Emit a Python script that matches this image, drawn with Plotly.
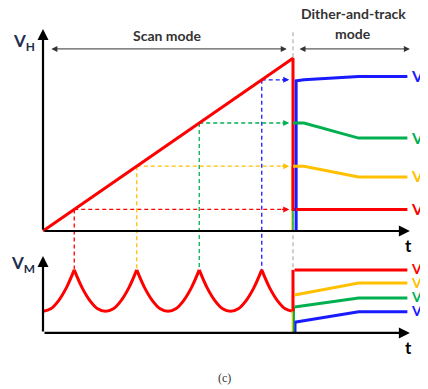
import plotly.graph_objects as go

# scan phase: ramp of V_H against time, and sampled levels
ramp_t = [0, 8]
ramp_v = [0, 8]
sample_t = [1, 3, 5, 7]
sample_v = [1, 3, 5, 7]
sample_colors = ["#ff0000", "#ffc000", "#00b050", "#1a1aff"]

# V_M scallop during scan (peaks where samples are taken)
scallop_t = [0, 0.25, 0.5, 0.75, 1, 1.25, 1.5, 1.75, 2, 2.25, 2.5, 2.75, 3,
             3.25, 3.5, 3.75, 4, 4.25, 4.5, 4.75, 5, 5.25, 5.5, 5.75, 6,
             6.25, 6.5, 6.75, 7, 7.25, 7.5, 7.75, 8]
scallop_v = [1.0, 1.12, 1.5, 2.1, 2.92, 2.1, 1.5, 1.12, 1.0, 1.12, 1.5, 2.1, 2.92,
             2.1, 1.5, 1.12, 1.0, 1.12, 1.5, 2.1, 2.92, 2.1, 1.5, 1.12, 1.0,
             1.12, 1.5, 2.1, 2.92, 2.1, 1.5, 1.12, 1.0]
peak_t = [1, 3, 5, 7]

# dither-and-track phase, V_H per channel
track_t = [8.1, 8.35, 10.1, 11.66]
track_h = {
    "#1a1aff": [6.95, 7.0, 7.15, 7.15],
    "#00b050": [5.0, 5.0, 4.3, 4.3],
    "#ffc000": [3.0, 3.0, 2.5, 2.5],
    "#ff0000": [1.0, 1.0, 1.0, 1.0],
}
# dither-and-track phase, V_M per channel
track_m_t = [8.05, 10.1, 11.66]
track_m = {
    "#ff0000": [2.92, 2.92, 2.92],
    "#ffc000": [1.76, 2.31, 2.31],
    "#00b050": [1.2, 1.62, 1.62],
    "#1a1aff": [0.5, 0.98, 0.98],
}

VM_OFF = -4.72  # vertical offset of lower (V_M) panel
T_END = 11.74
PX_T, PX_V = 31.25, 21.6
# page body has an 8px margin, so the figure is 8px smaller and origin shifted
X0, Y0 = 43 - 8, 231 - 8
W, H = 420, 381

fig = go.Figure()


def line(x, y, color, width=3, dash=None, shape="linear"):
    fig.add_trace(go.Scatter(x=x, y=y, mode="lines", hoverinfo="skip",
                             line=dict(color=color, width=width, dash=dash, shape=shape)))


def arrow(x0, y0, x1, y1, color="black", width=2, head=2, size=1, side="end"):
    fig.add_annotation(x=x1, y=y1, ax=x0, ay=y0, xref="x", yref="y", axref="x", ayref="y",
                       text="", showarrow=True, arrowhead=head, startarrowhead=head,
                       arrowsize=size, startarrowsize=size, arrowwidth=width,
                       arrowcolor=color, arrowside=side)


def edge_label(v, text, color, size):
    # labels hang off the right edge, so place them in paper units
    fig.add_annotation(x=(X0 + 11.72 * PX_T) / W, y=1 - (Y0 - v * PX_V) / H,
                       xref="paper", yref="paper", text=text, showarrow=False,
                       xanchor="left", yanchor="middle",
                       font=dict(size=size, color=color, family="Lato"))


# mode divider
line([8, 8], [9.2, VM_OFF + 2.95], "#c0c0c0", width=1.5, dash="4px,3px")

# projection dashes
for t, v, c in zip(sample_t, sample_v, sample_colors):
    line([t, t], [v, VM_OFF + 2.92], c, width=1.3, dash="4px,3px")
    line([t, 7.8], [v, v], c, width=1.3, dash="4px,3px")
    arrow(7.6, v, 7.88, v, color=c, width=1.2, head=2, size=1)

# top panel traces
line([7.97, 7.97], [0, 3.0], "#ffc000", width=1.5)
line([8.0, 8.0], [0, 5.0], "#00b050", width=1.5)
line([ramp_t[0], ramp_t[1], 8, 8.1], [ramp_v[0], ramp_v[1], 1.0, 1.0], "#ff0000")
for c, v in track_h.items():
    if c == "#ff0000":
        line(track_t, v, c)
    elif c == "#1a1aff":
        line([8.1] + track_t, [0] + v, c)
    else:
        line([8.0] + track_t[1:], [v[0]] + v[1:], c)

# bottom panel scallop, split at cusps
cuts = [0] + [scallop_t.index(p) for p in peak_t] + [len(scallop_t) - 1]
for a, b in zip(cuts[:-1], cuts[1:]):
    line(scallop_t[a:b + 1], [v + VM_OFF for v in scallop_v[a:b + 1]], "#ff0000", shape="spline")

line([7.99, 7.99], [VM_OFF, VM_OFF + 1.76], "#ffc000", width=2)
line([8.03, 8.03], [VM_OFF, VM_OFF + 1.2], "#00b050", width=2)
line([8.08, 8.08], [VM_OFF, VM_OFF + 0.5], "#1a1aff", width=2)
line([8.0, 8.0], [VM_OFF + 1.0, VM_OFF + 2.92], "#ff0000")
for c, v in track_m.items():
    line(track_m_t, [u + VM_OFF for u in v], c)

# axes
for y0, ytop in [(0, 9.35), (VM_OFF, VM_OFF + 3.56)]:
    arrow(0, y0, 0, ytop, width=2.2, head=2, size=1)
    arrow(0, y0, T_END, y0, width=2.2, head=2, size=1)
    fig.add_annotation(x=T_END - 0.05, y=y0 - 0.1, text="<b>t</b>", showarrow=False,
                       yanchor="top", font=dict(size=17, color="black", family="Lato"))

# mode arrows
arrow(0.22, 8.43, 7.8, 8.43, color="#333333", width=1, head=2, size=1.2, side="end+start")
arrow(8.16, 8.43, T_END, 8.43, color="#333333", width=1, head=2, size=1.2, side="end+start")

fig.add_annotation(x=3.97, y=9.07, text="<b>Scan mode</b>", showarrow=False,
                   font=dict(size=14, color="#333333", family="Lato"))
fig.add_annotation(x=9.92, y=10.05, text="<b>Dither-and-track</b>", showarrow=False,
                   font=dict(size=14, color="#333333", family="Lato"))
fig.add_annotation(x=9.92, y=9.15, text="<b>mode</b>", showarrow=False,
                   font=dict(size=14, color="#333333", family="Lato"))

fig.add_annotation(x=-0.2, y=8.75, text="<b>V<sub>H</sub></b>", showarrow=False, xanchor="right",
                   font=dict(size=17, color="#1f2d4d", family="Lato"))
fig.add_annotation(x=-0.2, y=VM_OFF + 3.2, text="<b>V<sub>M</sub></b>", showarrow=False,
                   xanchor="right", font=dict(size=17, color="#1f2d4d", family="Lato"))

for c, v, s in zip(["#1a1aff", "#00b050", "#ffc000", "#ff0000"],
                   [7.15, 4.3, 2.5, 1.0], ["4", "3", "2", "1"]):
    edge_label(v, f"<b>V<sub>H{s}</sub></b>", c, 16)
for c, v, s in zip(["#ff0000", "#ffc000", "#00b050", "#1a1aff"],
                   [2.92, 2.31, 1.62, 0.98], ["1", "2", "3", "4"]):
    edge_label(v + VM_OFF, f"<b>V<sub>M{s}</sub></b>", c, 14)

fig.add_annotation(x=5.8, y=-6.8, text="(c)", showarrow=False,
                   font=dict(size=12, color="#333333", family="Liberation Serif"))

fig.update_layout(
    width=W, height=H,
    margin=dict(l=0, r=0, t=0, b=0),
    plot_bgcolor="white", paper_bgcolor="white",
    showlegend=False,
    xaxis=dict(range=[-X0 / PX_T, (W - X0) / PX_T], visible=False, fixedrange=True),
    yaxis=dict(range=[(Y0 - H) / PX_V, Y0 / PX_V], visible=False, fixedrange=True),
)

fig.write_html("out.html")
